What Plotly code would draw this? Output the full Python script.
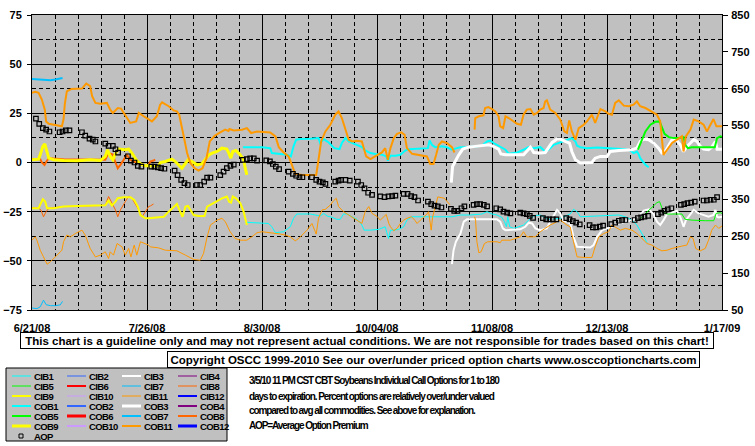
import plotly.graph_objects as go
import pandas as pd

START_DATE = "2008-06-21"

# ---------------- data: (days after 6/21/08, value) ----------------
CIB7 = [(0, -74), (1.5, -74.3), (2.5, -73.4), (3.5, -70), (4.3, -72.3), (5.6, -72.8), (7.1, -72.8), (8.6, -72.4), (9.3, -70.6)]
COB7 = [(0, 42.5), (2.5, 42.2), (4, 41.8), (5.6, 41.8), (7.1, 42.2), (8.6, 42.5), (9.3, 43)]

COB11 = [(0, 35.4), (1, 35.9), (2, 35.4), (3, 32), (3.9, 26.9), (4.3, 20.9), (5.1, 19.7), (7, 19.2), (9.1, 18.4), (9.6, 22),
         (10, 30), (10.6, 36.2), (12, 37.4), (15.2, 37.6), (16.5, 40.1), (17.7, 38.8), (18.3, 33.7), (19.3, 30.3), (20.8, 29.9),
         (22.8, 30.3), (23.8, 26.9), (24.6, 25.2), (26.1, 27.7), (27.1, 27.4), (28.4, 24.3), (29.9, 20.1), (31.7, 20.9),
         (32.5, 25.2), (34, 23.5), (35, 22.6), (36.5, 20.9), (38, 23.5), (39, 29.4), (39.6, 30.6), (41.6, 28.6), (43.1, 26.5),
         (44.1, 26), (44.8, 24.3), (45.6, 18.4), (46.5, 10.7), (47.2, 4.8), (48.2, -0.3), (49.5, -2.9), (50.7, -4.1),
         (51.9, -2.9), (53.1, 2.2), (54.1, 10.7), (55.6, 13.6), (57.3, 15.3), (58.8, 16.7), (59.8, 16), (60.1, 17),
         (61.4, 16.3), (63.9, 16.7), (65.4, 17.5), (66.7, 15), (68.5, 15.8), (70, 15.5), (72.5, 15.3), (74.1, 13.3),
         (75.1, 7.8), (76.6, 5.1), (78.1, 3.1), (79.1, -1.2), (80.1, -5.8), (82.2, -6.3), (86.5, -6.3), (87.2, 1.4),
         (88, 10.7), (89.3, 15.8), (90.8, 19.2), (92.3, 24.3), (93.3, 26), (94.3, 22.6), (95.4, 16.7), (96.4, 11.6),
         (97.4, 10.7), (98.9, 11), (100.4, 10.7), (101.7, 3.1), (103, 1.7), (104.5, 3.1), (105.5, 4), (106.5, 5.1),
         (107.5, 7.3), (108.3, 1.4), (109.1, 7.3), (110.1, 12.4), (111.1, 14.6), (112.4, 15.3), (113.4, 14.1), (114.1, 7.3),
         (115.7, 4.4), (117.2, 3.9), (119.2, 3.4), (120.2, 3.1), (121.2, -0.7), (122.2, -0.7), (123, 3.9), (123.8, 9),
         (124.8, 10.7), (126.3, 9.9), (127.8, 7.8), (128.6, 5.1), (131, None), (134.7, 16.7), (134.9, 22.6), (136, 23.5),
         (137.4, 24), (137.9, 27.7), (138.9, 28.2), (140, 27.2), (141, 26), (142, 23.5), (142.5, 18.4), (143.4, 17.5),
         (144.1, 23.5), (145.1, 22.6), (146.4, 20.9), (147.6, 19.7), (148.8, 19.2), (149.6, 24.3), (150.6, 26.9),
         (151.7, 27.2), (152.7, 24.3), (153.7, 25.2), (154.7, 26.9), (155.7, 27.7), (156.2, 31.1), (156.7, 31.6),
         (157.7, 26.9), (159.3, 25.2), (160.8, 21.8), (162, 15.8), (162.8, 15), (163.5, 21.4), (164.3, 15.8), (165.4, 11.6),
         (166.4, 17.5), (167.9, 19.2), (168.9, 20.9), (170.4, 24.3), (171.4, 20.1), (173, 27.2), (174.5, 26), (175.5, 24.8),
         (176.5, 24.3), (177.5, 30.3), (178.6, 31.6), (180.1, 28.9), (181.6, 28.6), (183.1, 29.4), (184.1, 31.1),
         (185.1, 28.6), (186.7, 27.7), (188.7, 26), (190.2, 24.3), (191.2, 20.9), (191.7, 13.3), (192.2, 3.9), (193.3, 6.5),
         (194.8, 9.9), (196.3, 11.6), (197.8, 13.3), (198.3, 5.6), (199, 13.3), (200.4, 16.7), (201.4, 21.8), (202.9, 20.9),
         (204.4, 19.2), (205.4, 15.8), (206.4, 19.2), (207.4, 22.1), (208.3, 18.4), (210, 18.4)]

CIB11 = [(0, -39.5), (1, -37.8), (1.5, -39.5), (2.5, -44.6), (3.5, -48), (4.6, -51.7), (5.6, -50.5), (6.6, -48.8), (8.1, -46.3),
         (9.1, -44.6), (9.6, -40.3), (10.6, -36.9), (11.7, -37.8), (13.2, -36.1), (15.2, -34.4), (16.2, -36.9), (17.7, -43.7),
         (19.3, -48), (20.8, -47.1), (22.3, -45.4), (23.3, -48.8), (23.8, -45.4), (24.8, -47.1), (25.9, -41.2), (27.4, -42.9),
         (28.4, -47.1), (29.4, -43.7), (30.1, -48), (31.1, -42), (31.9, -47.1), (33, -40.3), (34.5, -41.2), (35.5, -42),
         (36, -42.9), (38.5, -43.4), (40.6, -44.6), (44.1, -44.9), (46.7, -47.1), (49.2, -49.3), (51.2, -49.7), (52.2, -46.3),
         (53.3, -37.8), (54.3, -31.8), (55.3, -30.6), (56.3, -29.3), (57.8, -28.4), (58.8, -30), (60.3, -35.2), (61.8, -38.6),
         (63.4, -39.5), (65.4, -39.5), (66.9, -37.8), (68.5, -35.7), (70, -35.2), (72, -35.5), (73.6, -36.1), (75.6, -36.4),
         (77.1, -36.9), (78.6, -37.8), (80.1, -39.8), (81.2, -38.6), (82.2, -36.9), (83.7, -34.4), (85.2, -31), (85.9, -33.7),
         (86.5, -36.4), (87.2, -28.4), (88.3, -24.1), (89.3, -23.8), (90.8, -21.6), (91.8, -19.4), (92.6, -18.2),
         (93.3, -22.4), (94.8, -25), (96.4, -26.7), (98.4, -28.9), (100.4, -31), (101.4, -25), (102.5, -22.4), (103.5, -25.9),
         (105, -27.4), (106, -29.3), (107, -27.6), (107.8, -26.4), (108.6, -31), (109.1, -32.7), (110.1, -34.7),
         (111.1, -33.5), (112.1, -31), (113.1, -29.3), (114.1, -28.4), (115.5, -27.6), (116.5, -29.3), (117.2, -31),
         (118.2, -29.3), (119.2, -27.9), (120.2, -26.2), (120.7, -25), (121.5, -34.4), (121.9, -28), (122.7, -22),
         (123.5, -17.5), (125.5, -18.2), (127.2, -21.5), (131, None), (134.7, -27.6), (135, -29.3), (135.4, -40.3),
         (136, -45.9), (136.7, -45.4), (137.7, -41.2), (138.7, -40.3), (140, -40.3), (141.5, -40.3), (142.5, -40.8),
         (143, -39.5), (145.6, -39.5), (148.6, -37.8), (149.6, -35.2), (150.6, -37.8), (153.2, -37.8), (154.7, -35.2),
         (156.2, -33.5), (157.7, -31.8), (159.8, -30.1), (160.8, -29.3), (162.8, -31.8), (163.8, -32.7), (164.8, -40.3),
         (165.9, -48), (168.4, -48.3), (170.4, -48.3), (171.4, -42.9), (172.5, -37.8), (174, -36.1), (175.5, -35.2),
         (176.5, -31.8), (177.5, -32.7), (179.1, -34.4), (180.6, -33.5), (182.6, -34.4), (184.1, -36.1), (185.6, -38.6),
         (187.2, -41.2), (188.7, -42), (190.2, -43.7), (191.7, -44.9), (193.3, -44.6), (194.8, -43.7), (196.3, -42.9),
         (197.8, -42.5), (199.3, -42), (200.4, -37.8), (201.2, -38.6), (202, -43.7), (203.4, -44.9), (204.9, -43.7),
         (205.9, -39.5), (206.9, -34.4), (208, -31.8), (209, -33.5), (210, -32.3)]

COB9 = [(0, 1.4), (2, 1.7), (2.5, 3.9), (3.3, 8.2), (3.9, 9.5), (4.4, 6.5), (5.1, 2.2), (6.6, 1.4), (9.6, 1), (13.7, 0.9),
        (17.7, 1.4), (20.8, 1), (22.3, 3.1), (23, 6.5), (23.8, 3.1), (24.6, 1.4), (25.7, 5.6), (26.4, 6.8), (28.4, 6.5),
        (29.4, 6.8), (30.4, 4.8), (31.7, 1.4), (33, -0.7), (34.5, -1.7), (35.5, -1.5), (36.5, -1.7), (38.5, -1.7), (39.1, 0),
        (40.6, 0.5), (42.6, 1.7), (43.6, 0.5), (45.6, -2.9), (46.7, -0.3), (47.5, 1.4), (48.7, 0.5), (50.2, -1.2),
        (51.7, -0.7), (52.7, 1.4), (53.8, 3.9), (54.8, 4.8), (56.3, 5.6), (57.8, 7.3), (59.3, 6.8), (60, 4.4), (60.5, 2.2),
        (61.1, 5.6), (62.1, 6.1), (63.4, 3.9), (64.4, 1.4), (64.9, -2.9), (65.4, -6.3)]

COB8 = [(0, 1.7), (2.5, 1.7), (3, 0), (3.8, -1.2), (4.4, 0.5), (5.1, 2.2), (9.6, 1.7), (19.8, 1.4), (22.3, 1.4), (23.3, 4.8),
        (24.6, 4), (25.4, 0), (26.1, -2.9), (26.9, -1.2), (27.9, 1.4), (28.9, 3.9), (29.9, 1.4), (30.9, 0.5), (32.5, 0),
        (34, -1.7), (35.5, -1.2), (36, 0.5), (37, 1), (37.5, 1.4)]

CIB9 = [(0, -23.3), (2, -23.3), (2.7, -20.7), (3.3, -18.7), (4, -19.9), (4.6, -23.3), (6.6, -23.3), (9.6, -22.4),
        (13.7, -22.1), (17.7, -21.9), (22.3, -21.8), (23.3, -19.4), (23.8, -20.4), (24.3, -21.9), (25.4, -19.9),
        (26.1, -18.2), (27.9, -17.7), (30, -17.7), (31.1, -19), (32.2, -22.4), (33, -26.7), (34.5, -28.4), (35.5, -28.4),
        (37.5, -27.9), (40.1, -27.6), (41.6, -25), (43.1, -22.4), (44.1, -21.1), (45.1, -25), (45.8, -27.6), (46.7, -22.4),
        (47.5, -22.1), (48.2, -24.1), (49.2, -26.7), (50.7, -27.2), (52.5, -27.2), (53.3, -22.4), (54.8, -21.1),
        (56.3, -19.4), (57.8, -18.2), (59.3, -17.3), (60, -19.9), (60.6, -20.4), (61.1, -17.3), (62.1, -18.2),
        (63.4, -20.7), (64.4, -25), (65.1, -29.3), (65.4, -31.8)]

CIB8 = [(0, -23), (2, -23.3), (2.7, -24.1), (3.5, -27.6), (4.3, -25), (5.1, -23.3), (9.6, -22.4), (22.3, -21.8), (23.3, -17.3),
        (24.3, -20.7), (25.4, -24.1), (26.1, -27.6), (26.9, -24.1), (28.4, -19.9), (29.4, -17.3), (30.4, -18.2),
        (31.4, -20.7), (32.5, -24.1), (33.5, -27.6), (34.5, -25), (35.5, -22.4), (36, -22.1), (37, -21.1)]

COB1 = [(64.2, 7.7), (70, 7.7), (72.5, 7.3), (73, 4.8), (75.6, 4.3), (77.6, 3.9), (78.8, 3.1), (79.6, 8.2), (80.4, 11.6),
        (81.7, 11.9), (84.7, 12.1), (87.2, 12.4), (87.7, 9.9), (88.8, 11.9), (90.3, 10.2), (92, 7.3), (93.6, 6.8), (94.3, 9.9),
        (95.4, 12.4), (96.4, 10.7), (97.4, 10), (98.9, 9), (100.4, 7.8), (101.4, 6.1), (103, 4.8), (104.5, 4.3), (106.5, 4),
        (107.8, 3.1), (108.3, 1), (109.1, 3.4), (110.6, 3.4), (112.1, 3.9), (113.6, 6.1), (114.6, 6.8), (117.7, 7),
        (120.5, 7.3), (121, 11.2), (121.7, 9), (122.7, 7.8), (124.8, 8.2), (126.3, 7.7), (127.8, 6.5), (129.3, 7.3),
        (130.4, 7.8), (132.4, 7.8), (134.9, 8.2), (136.9, 8.5), (138.5, 10.7), (139.5, 11.1), (140.5, 9.9), (141.5, 9),
        (143, 7.8), (144.1, 6.5), (145.1, 4.4), (146.1, 4.8), (147.7, 5.1), (149.6, 6.5), (151.2, 7.8), (152.7, 7.3),
        (154.7, 7.8), (156.2, 5.6), (157.2, 6.5), (158.8, 9), (160.3, 9.9), (161.8, 11.1), (163.3, 11.9), (164.3, 12.4),
        (165.4, 10.7), (165.9, 8.5), (166.9, 7.8), (168.9, 7.3), (172, 7.6), (175, 7.3), (177.5, 7.3), (180.6, 6.8),
        (182.1, 6.1), (183.1, 4.8), (184.1, 5.6), (184.6, 4.4), (185.1, 2.2), (185.8, 0.5), (186.7, -1.2), (187.7, -2.4)]

CIB1 = [(64.9, -30.4), (70, -30.6), (72, -31), (73, -32.7), (74.1, -35.7), (76.6, -35.2), (78.6, -32.7), (79.6, -28.4),
        (80.6, -26.2), (84.7, -26.2), (86.7, -26.7), (87.7, -27.2), (88.8, -25.9), (89.8, -27.2), (91.3, -27.9),
        (92.8, -28.9), (93.8, -28.9), (94.8, -26.2), (95.8, -26.2), (97.4, -27.6), (98.9, -28.9), (99.9, -30.6),
        (100.4, -31.8), (101.1, -34.4), (103, -34.4), (105.5, -34), (107.5, -32.7), (108, -35.7), (108.5, -38.6),
        (109.1, -34.4), (110.1, -34.4), (111.6, -34), (113.1, -32.7), (114.1, -29.3), (115.6, -27.6), (119.7, -27.6),
        (124.8, -27.6), (127.8, -27.6), (130.4, -26.7), (133.4, -26.7), (136.9, -26.2), (138.5, -25), (140, -26.2),
        (141.5, -26.7), (143, -27.9), (143.8, -30.1), (144.4, -32.7), (144.8, -27.6), (145.4, -32.7), (146.6, -33.5),
        (148.1, -32.7), (149.6, -31.8), (151.2, -29.3), (152.7, -27.2), (154.7, -26.7), (157.2, -28.9), (160.8, -28.4),
        (163.8, -26.2), (164.8, -23.8), (165.9, -25), (166.9, -27.6), (173, -27.2), (175, -27.2), (178.6, -26.7),
        (180.6, -27.6), (182.6, -29.3), (184.1, -31.8), (185.1, -34.4), (186.2, -37.8), (187.2, -40.8)]

COB3 = [(127.6, -10.2), (128, -2), (128.8, 0.5), (129.9, 3.9), (131.1, 6.8), (132.9, 7.8), (134.9, 8.2), (136.9, 8.5), (139, 9),
        (140, 8.5), (142, 6.8), (142.7, 4.4), (144.1, 3.9), (149.6, 3.9), (150.6, 5.6), (151.7, 7.8), (152.7, 5.1),
        (154.7, 4.8), (156.2, 5.1), (157.2, 7.8), (158.3, 10.2), (159.8, 11.9), (160.8, 11.9), (162.3, 10.7), (163.6, 9.9),
        (164.3, 5.6), (165.4, 1.4), (166.9, -0.3), (168.9, -0.3), (170.4, 0), (171.4, 2.2), (173, 3.1), (175, 3.1),
        (176, 5.6), (178.6, 6.1), (182.6, 6.5), (184.1, 7.3), (185.1, 10.7), (186.2, 11.9), (187.7, 11.6), (189.2, 9.9),
        (190.7, 7.3), (191.7, 4.8), (192.5, 4.8), (193.6, 8.2), (194.8, 11.6), (196, 11.6), (197.3, 9), (198.3, 5.6),
        (199.3, 8.2), (200.4, 9.9), (201.4, 11.6), (202.4, 10.7), (203.4, 8.2), (204.4, 6.8), (205.9, 6.5), (206.9, 7.8),
        (208, 10.7), (208.5, 6.8), (210, 6.8)]

CIB3 = [(127.8, -51.7), (128.3, -44.6), (129, -40.3), (130.4, -36.1), (131.4, -30.1), (132.4, -28.9), (137.9, -28.9),
        (140, -28.9), (141.5, -28.9), (142.5, -30.1), (143.3, -33.5), (144.1, -34.4), (148.6, -34), (150.1, -32.7),
        (151.2, -30.6), (152.2, -31), (153.2, -33.5), (154.7, -34.4), (156.7, -33.5), (157.7, -30.1), (158.9, -26.2),
        (159.8, -24.1), (160.8, -25.9), (161.8, -29.6), (163.8, -30.9), (164.8, -37.8), (165.9, -42.9), (167.9, -43.2),
        (169.9, -43.2), (170.9, -42), (172, -37.8), (173.5, -34.4), (175, -33.5), (176.5, -32.7), (178.6, -31),
        (180.6, -30.1), (182.6, -29.3), (184.6, -27.6), (186.2, -24.5), (187.7, -23.8), (189.2, -26.2), (190.2, -30.1),
        (191.2, -31.8), (192.2, -29.3), (193.3, -26.2), (194.8, -25.4), (196.3, -24.5), (197.3, -27.6), (198.3, -32.7),
        (199, -29.3), (200.4, -25.9), (201.4, -24.1), (202.9, -25.9), (204.4, -26.7), (205.9, -27.6), (207.4, -26.7),
        (208, -24.1), (208.5, -27.6), (209, -27.9), (210, -27.6)]

COB5 = [(184.4, 6.5), (185.6, 11.6), (186.7, 15.8), (188.2, 19.2), (189.7, 20.7), (191, 20.9), (191.7, 17.5), (192.5, 14.6),
        (193.8, 12.9), (195.3, 12.4), (197, 12.4), (198.3, 12.9), (198.8, 9), (199.6, 7.3), (200.8, 7.8), (204.4, 7.8),
        (207.8, 7.8), (208.5, 12.4), (209.5, 13.3), (210, 13)]

CIB5 = [(184.6, -29.3), (186.7, -25.9), (188.7, -22.4), (190.2, -20.4), (191, -19.9), (191.6, -22.4), (192.3, -25.5),
        (193.3, -26.2), (197.8, -26.2), (198.8, -28.9), (200.8, -29.3), (204.9, -29.6), (207.5, -29.6), (208.2, -25.9),
        (209.5, -25.5), (210, -25.9)]

# Average Option Premium (right axis)
AOP = [(1.2, 569), (2.2, 555), (3.3, 543), (4.3, 539), (5.3, 534), (8.4, 532), (9.3, 534), (10.3, 537), (11.4, 537),
       (15.2, 532), (16.2, 523), (17.5, 515), (18.5, 512), (19.3, 507), (22.3, 501), (23.3, 495), (24.6, 495), (25.4, 486),
       (26.2, 477), (29.2, 467), (30.1, 455), (31.2, 450), (32.2, 441), (33.3, 439), (36.3, 439), (37.3, 439), (38.3, 437),
       (39.3, 435), (40.3, 433), (43.4, 428), (44.3, 416), (45.4, 403), (46.4, 394), (47.4, 389), (50.2, 389), (51.2, 389),
       (52.4, 398), (53.3, 409), (54.3, 409), (57.3, 416), (58.3, 425), (59.3, 435), (60.4, 441), (61.4, 444), (64.2, 457),
       (65.4, 459), (66.4, 461), (67.5, 461), (68.5, 455), (71.3, 456), (72.4, 453), (73.3, 446), (74.2, 439), (75.2, 432),
       (78.1, 425), (79.4, 419), (80.4, 414), (81.4, 410), (82.3, 410), (85.2, 410), (86.5, 403), (87.5, 398), (88.5, 396),
       (89.3, 392), (92.3, 398), (93.3, 401), (94.1, 403), (95.4, 403), (96.7, 401), (99.2, 398), (100.2, 389),
       (101.2, 380), (102.3, 368), (103.5, 362), (106, 358), (107.3, 356), (108.5, 358), (109.6, 359), (110.6, 360),
       (113.1, 365), (114.3, 365), (115.4, 359), (116.4, 356), (117.5, 347), (120.5, 344), (121.5, 337), (122.5, 333),
       (123.5, 331), (124.6, 328), (127.5, 324), (128.5, 319), (129.5, 319), (130.7, 326), (131.6, 331), (134.4, 335),
       (135.4, 337), (136.4, 337), (137.5, 335), (138.5, 331), (141.3, 326), (142.5, 323), (143.5, 317), (144.6, 314),
       (145.6, 312), (148.6, 314), (149.6, 312), (150.6, 310), (151.5, 305), (152.5, 300), (155.5, 299), (156.5, 296),
       (157.5, 296), (158.5, 296), (159.6, 296), (162.6, 299), (163.6, 296), (164.6, 291), (165.6, 287), (166.7, 282),
       (169.7, 280), (170.7, 274), (171.7, 274), (172.8, 276), (173.8, 279), (176.3, 283), (177.5, 287), (178.6, 292),
       (179.6, 294), (180.6, 294), (183.4, 294), (184.4, 299), (185.4, 301), (186.4, 303), (187.5, 305), (190.5, 310),
       (191.5, 314), (192.5, 319), (193.5, 323), (194.6, 326), (197.5, 335), (198.5, 337), (199.5, 340), (200.6, 341),
       (201.7, 344), (204.4, 347), (205.4, 347), (206.5, 349), (207.5, 349), (208.5, 356)]

X_TICK_DAYS = [0, 35, 70, 105, 140, 175, 210]
X_TICK_LABELS = ["6/21/08", "7/26/08", "8/30/08", "10/04/08", "11/08/08", "12/13/08", "1/17/09"]
Y_LEFT_TICKS = [-75, -50, -25, 0, 25, 50, 75]
Y_RIGHT_TICKS = [50, 150, 250, 350, 450, 550, 650, 750, 850]

SERIES = {"CIB1": CIB1, "CIB3": CIB3, "CIB5": CIB5, "CIB7": CIB7, "CIB8": CIB8, "CIB9": CIB9, "CIB11": CIB11,
          "COB1": COB1, "COB3": COB3, "COB5": COB5, "COB7": COB7, "COB8": COB8, "COB9": COB9, "COB11": COB11}

LEGEND_NAMES = [f"CIB{i}" for i in range(1, 13)] + [f"COB{i}" for i in range(1, 13)]

NOTE_TEXT = "This chart is a guideline only and may not represent actual conditions. We are not responsible for trades based on this chart!"
COPYRIGHT_TEXT = "Copyright OSCC 1999-2010 See our over/under priced option charts www.osccoptioncharts.com"
INFO_LINES = ["3/5/10 11 PM CST CBT Soybeans Individual Call Options for 1 to 180",
              "days to expiration. Percent options are relatively over/under valued",
              "compared to avg all commodities. See above for explanation.",
              "AOP=Average Option Premium"]

# ---------------- styling ----------------
COLORS = {1: "#00FFFF", 2: "#3366FF", 3: "#FFFFFF", 4: "#800080", 5: "#00FF00", 6: "#FF0000",
          7: "#00BFFF", 8: "#FF6600", 9: "#FFFF00", 10: "#CC99FF", 11: "#FF9900", 12: "#0000FF"}


def style(name):
    n = int(name[3:])
    heavy = n in (3, 6, 9, 12)
    if name.startswith("CIB"):
        w = 2 if heavy else 1
    else:
        w = 3 if heavy else 2
    return COLORS[n], w


W, H = 755, 446
ML, MR, MT, MB = 32, 33, 15, 136
PW, PH = W - ML - MR, H - MT - MB


def xp(px):
    return (px - ML) / PW


def yp(py):
    return (H - MB - py) / PH


def condensed(text, spacing):
    return f'<span style="letter-spacing:{spacing}px">{text}</span>'


start = pd.Timestamp(START_DATE)


def to_dates(pairs):
    return [start + pd.Timedelta(days=d) for d, _ in pairs]


def to_vals(pairs):
    return [v for _, v in pairs]


fig = go.Figure()
for name in LEGEND_NAMES:
    if name not in SERIES:
        continue
    c, w = style(name)
    fig.add_trace(go.Scatter(x=to_dates(SERIES[name]), y=to_vals(SERIES[name]), mode="lines", name=name,
                             line=dict(color=c, width=w), connectgaps=False, showlegend=False, hoverinfo="skip"))

fig.add_trace(go.Scatter(x=to_dates(AOP), y=to_vals(AOP), mode="markers", name="AOP", yaxis="y2",
                         marker=dict(symbol="square-open", size=4.5, color="black", line=dict(width=1.2, color="black")),
                         showlegend=False, hoverinfo="skip"))

AX_FONT = dict(family="Liberation Sans, Arial, sans-serif", size=11, color="black", weight="bold")
SANS = "Liberation Sans, Arial, sans-serif"

fig.update_layout(
    width=W, height=H,
    margin=dict(l=ML, r=MR, t=MT, b=MB, pad=0, autoexpand=False),
    paper_bgcolor="white", plot_bgcolor="#C0C0C0",
    showlegend=False,
    xaxis=dict(
        type="date", automargin=False,
        range=[start, start + pd.Timedelta(days=210)],
        tickmode="array",
        tickvals=[start + pd.Timedelta(days=d) for d in X_TICK_DAYS],
        ticktext=X_TICK_LABELS,
        ticks="", ticklabelstandoff=8,
        tickfont=AX_FONT,
        showgrid=True, gridcolor="black", gridwidth=1,
        minor=dict(tick0=start, dtick=7 * 86400000, showgrid=True, gridcolor="black", gridwidth=1,
                   griddash="4px,3px", ticks=""),
        showline=True, linecolor="black", linewidth=1, mirror=True,
        zeroline=False,
    ),
    yaxis=dict(
        range=[-75, 75], automargin=False,
        tickmode="array", tickvals=Y_LEFT_TICKS,
        ticks="outside", ticklen=4, tickcolor="black", ticklabelstandoff=3,
        tickfont=AX_FONT,
        showgrid=True, gridcolor="black", gridwidth=1,
        minor=dict(tick0=0, dtick=12.5, showgrid=True, gridcolor="black", gridwidth=1, griddash="4px,3px", ticks=""),
        showline=True, linecolor="black", linewidth=1, mirror=True,
        zeroline=False,
    ),
    yaxis2=dict(
        range=[50, 850], overlaying="y", side="right", anchor="x", automargin=False,
        tickmode="array", tickvals=Y_RIGHT_TICKS,
        ticks="outside", ticklen=5, tickcolor="black", ticklabelstandoff=1,
        tickfont=AX_FONT,
        showgrid=False, zeroline=False,
        showline=True, linecolor="black", linewidth=1,
    ),
)

annotations = []
shapes = []

# disclaimer boxes
BOX_FONT = dict(family=SANS, size=11.5, color="black", weight="bold")
annotations.append(dict(text=NOTE_TEXT, xref="paper", yref="paper", x=xp(367), y=yp(340), xanchor="center",
                        yanchor="middle", showarrow=False, font=BOX_FONT, bgcolor="white", bordercolor="black",
                        borderwidth=1, borderpad=0, width=692, height=15))
annotations.append(dict(text=COPYRIGHT_TEXT, xref="paper", yref="paper", x=xp(433.5), y=yp(359.7), xanchor="center",
                        yanchor="middle", showarrow=False, font=BOX_FONT, bgcolor="white", bordercolor="black",
                        borderwidth=1, borderpad=0, width=531, height=15))

# legend box
shapes.append(dict(type="rect", xref="paper", yref="paper", x0=xp(6), x1=xp(227), y0=yp(368), y1=yp(441),
                   fillcolor="#C0C0C0", line=dict(color="black", width=1), layer="above"))
COL_X = [12, 67, 122, 178]
ROW_Y0, ROW_DY = 376, 10
LEG_FONT = dict(family=SANS, size=9.5, color="black", weight="bold")
for i, name in enumerate(LEGEND_NAMES):
    col, row = i % 4, i // 4
    lx = COL_X[col]
    ry = ROW_Y0 + ROW_DY * row
    c, w = style(name)
    shapes.append(dict(type="line", xref="paper", yref="paper", x0=xp(lx), x1=xp(lx + 19), y0=yp(ry), y1=yp(ry),
                       line=dict(color=c, width=w), layer="above"))
    annotations.append(dict(text=condensed(name, -0.6), xref="paper", yref="paper", x=xp(lx + 20), y=yp(ry),
                            xanchor="left", yanchor="middle", showarrow=False, font=LEG_FONT))
ry = ROW_Y0 + ROW_DY * 6
shapes.append(dict(type="rect", xref="paper", yref="paper", x0=xp(19), x1=xp(23), y0=yp(ry - 2), y1=yp(ry + 2),
                   line=dict(color="black", width=1), fillcolor="rgba(0,0,0,0)", layer="above"))
annotations.append(dict(text=condensed("AOP", -0.6), xref="paper", yref="paper", x=xp(COL_X[0] + 20), y=yp(ry),
                        xanchor="left", yanchor="middle", showarrow=False, font=LEG_FONT))

# info text
INFO_Y = [380.7, 396, 410.7, 425.3]
INFO_FONT = dict(family=SANS, size=10, color="black", weight="bold")
for line, y in zip(INFO_LINES, INFO_Y):
    annotations.append(dict(text=condensed(line, -1.1), xref="paper", yref="paper", x=xp(247), y=yp(y),
                            xanchor="left", yanchor="middle", showarrow=False, font=INFO_FONT))

fig.update_layout(annotations=annotations, shapes=shapes)
# remove the browser's default page margin so the 755x446 figure fills the window exactly
fig.write_html("out.html", config={"displayModeBar": False},
               post_script="document.body.style.margin='0';")
